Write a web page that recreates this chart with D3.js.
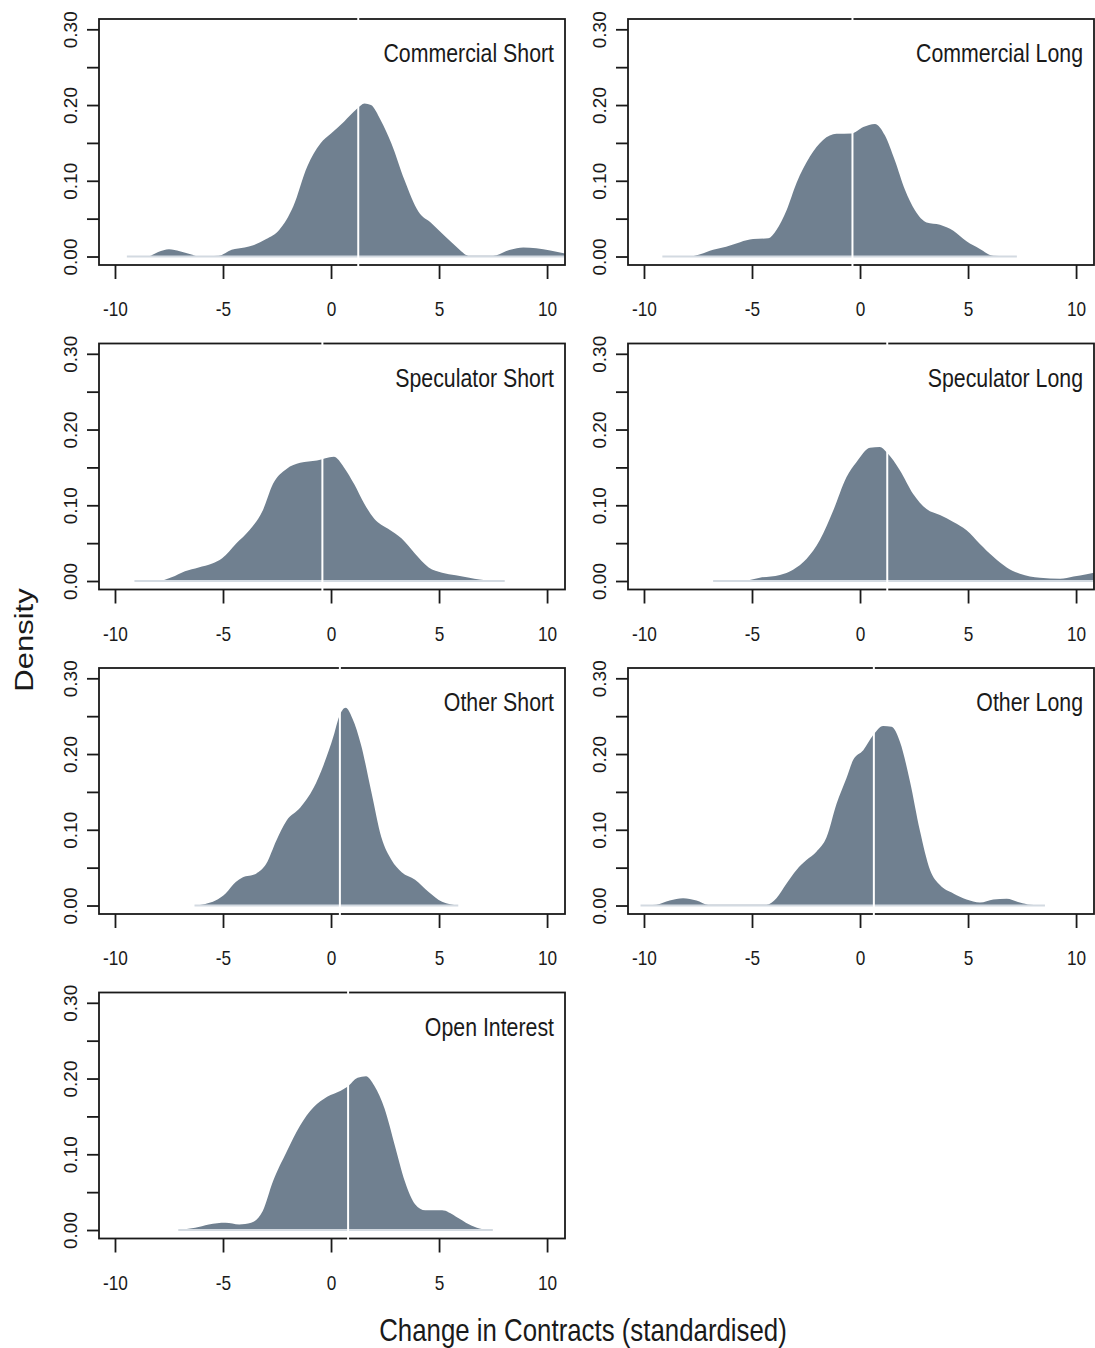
<!DOCTYPE html>
<html>
<head>
<meta charset="utf-8">
<script src="https://cdn.jsdelivr.net/npm/d3@7"></script>
<style>
  body { margin: 0; background: #fff; }
  svg { display: block; }
</style>
</head>
<body>
<div id="chart"></div>
<script>
// panel titles, in order (left to right, top to bottom)
var panelNames = ["Commercial Short", "Commercial Long", "Speculator Short", "Speculator Long",
                  "Other Short", "Other Long", "Open Interest"];

// density curves
var commShortX = [-9.45, -8.5, -8.0, -7.5, -7.0, -6.5, -6.1, -5.2, -4.6, -4.0, -3.6, -3.0, -2.4, -1.75, -1.1, -0.5, 0.0, 0.6, 1.2, 1.55, 1.85, 2.3, 2.8, 3.4, 4.05, 4.65, 5.3, 5.8, 6.4, 7.5, 8.3, 8.9, 9.5, 10.15, 10.85, 11.3];
var commShortY = [0, 0, 0.006, 0.0097, 0.007, 0.003, 0, 0.001, 0.009, 0.012, 0.015, 0.023, 0.035, 0.066, 0.119, 0.149, 0.1625, 0.178, 0.195, 0.202, 0.2, 0.18, 0.149, 0.101, 0.059, 0.044, 0.026, 0.013, 0.001, 0.001, 0.009, 0.012, 0.011, 0.008, 0.004, 0.002];

var commLongX = [-9.15, -7.9, -7.4, -6.8, -6.2, -5.55, -4.95, -4.25, -3.87, -3.4, -2.94, -2.32, -1.71, -1.09, -0.39, 0.15, 0.69, 1.15, 1.61, 2.08, 2.54, 3.08, 3.7, 4.32, 4.93, 5.55, 6.17, 7.26];
var commLongY = [0, 0, 0.003, 0.009, 0.013, 0.019, 0.023, 0.024, 0.035, 0.061, 0.097, 0.132, 0.154, 0.162, 0.1625, 0.171, 0.175, 0.160, 0.127, 0.088, 0.061, 0.045, 0.042, 0.034, 0.020, 0.010, 0.001, 0];

var specShortX = [-9.1, -8.0, -7.38, -6.76, -6.13, -5.5, -5.04, -4.41, -3.78, -3.16, -2.69, -2.06, -1.43, -0.65, 0.13, 0.6, 1.07, 1.54, 2.01, 2.64, 3.27, 3.89, 4.52, 5.14, 5.77, 6.4, 6.87, 8.04];
var specShortY = [0, 0, 0.005, 0.013, 0.018, 0.023, 0.030, 0.049, 0.067, 0.093, 0.128, 0.148, 0.156, 0.159, 0.164, 0.150, 0.128, 0.102, 0.082, 0.069, 0.056, 0.036, 0.018, 0.011, 0.0075, 0.0044, 0.002, 0];

var specLongX = [-6.8, -5.26, -4.64, -3.71, -3.1, -2.48, -1.86, -1.24, -0.63, -0.16, 0.46, 0.92, 1.23, 1.85, 2.46, 3.08, 3.7, 4.32, 4.93, 5.55, 6.17, 6.79, 7.4, 8.33, 9.26, 9.88, 10.49, 10.87, 11.3];
var specLongY = [0, 0.001, 0.0044, 0.008, 0.015, 0.029, 0.054, 0.093, 0.137, 0.157, 0.176, 0.177, 0.170, 0.146, 0.115, 0.095, 0.087, 0.078, 0.067, 0.049, 0.032, 0.018, 0.0097, 0.0044, 0.003, 0.006, 0.009, 0.011, 0.013];

var otherShortX = [-6.32, -5.82, -5.35, -4.88, -4.41, -4.1, -3.47, -3.0, -2.53, -2.06, -1.43, -0.81, -0.34, 0.13, 0.37, 0.68, 0.99, 1.39, 1.86, 2.33, 2.8, 3.27, 3.89, 4.52, 5.14, 5.89];
var otherShortY = [0, 0.002, 0.0065, 0.016, 0.031, 0.037, 0.042, 0.055, 0.086, 0.112, 0.129, 0.155, 0.186, 0.225, 0.249, 0.261, 0.247, 0.212, 0.151, 0.090, 0.060, 0.044, 0.034, 0.018, 0.005, 0];

var otherLongX = [-10.16, -9.43, -8.81, -8.19, -7.57, -7.03, -4.33, -3.87, -3.4, -2.94, -2.48, -2.02, -1.55, -1.09, -0.63, -0.32, 0.15, 0.61, 1.07, 1.46, 1.85, 2.31, 2.77, 3.24, 3.7, 4.32, 4.93, 5.55, 6.17, 6.79, 7.4, 7.88, 8.56];
var otherLongY = [0, 0.001, 0.0065, 0.0096, 0.0065, 0.001, 0.001, 0.0096, 0.029, 0.047, 0.060, 0.071, 0.090, 0.134, 0.168, 0.192, 0.205, 0.225, 0.237, 0.236, 0.216, 0.164, 0.099, 0.047, 0.027, 0.016, 0.008, 0.004, 0.008, 0.009, 0.004, 0.001, 0];

var openIntX = [-7.07, -6.29, -5.66, -4.88, -4.25, -3.7, -3.16, -2.69, -2.06, -1.43, -0.81, -0.18, 0.45, 0.76, 1.23, 1.62, 2.01, 2.48, 2.95, 3.42, 3.89, 4.36, 5.14, 5.77, 6.4, 6.87, 7.49];
var openIntY = [0, 0.003, 0.0074, 0.0096, 0.0074, 0.0096, 0.025, 0.064, 0.103, 0.138, 0.162, 0.176, 0.184, 0.189, 0.201, 0.203, 0.190, 0.160, 0.112, 0.064, 0.034, 0.026, 0.026, 0.018, 0.0074, 0.002, 0];

// mean marker (white line) per panel
var panelMeans = [1.26, -0.35, -0.4, 1.26, 0.41, 0.64, 0.79];

var xTicks = [-10, -5, 0, 5, 10];
var yTicks = [0, 0.05, 0.10, 0.15, 0.20, 0.25, 0.30];

var seriesX = [commShortX, commLongX, specShortX, specLongX, otherShortX, otherLongX, openIntX];
var seriesY = [commShortY, commLongY, specShortY, specLongY, otherShortY, otherLongY, openIntY];

var width = 1095,
    height = 1348,
    boxW = 466,
    boxH = 246,
    colLeft = [99, 628],
    rowTop = [19, 343.5, 668, 992.5],
    squeeze = 0.82,
    fillCol = "#708090",
    ink = "#1a1a1a";

var svg = d3.select("#chart").append("svg")
    .attr("width", width)
    .attr("height", height)
    .style("font-family", "'Liberation Sans', Arial, sans-serif");

var x = d3.scaleLinear().domain([-10.74, 10.83]).range([0, boxW]);
var y = d3.scaleLinear().domain([-0.0112, 0.3136]).range([boxH, 0]);

var area = d3.area()
    .x(function(d) { return x(d[0]); })
    .y0(y(0))
    .y1(function(d) { return y(d[1]); })
    .curve(d3.curveMonotoneX);

panelNames.forEach(function(name, i) {
    var col = i % 2,
        row = Math.floor(i / 2);

    var g = svg.append("g")
        .attr("transform", "translate(" + colLeft[col] + "," + rowTop[row] + ")");

    svg.append("clipPath")
        .attr("id", "clip" + i)
      .append("rect")
        .attr("width", boxW)
        .attr("height", boxH);

    var pts = seriesX[i].map(function(v, j) { return [v, seriesY[i][j]]; });

    var plot = g.append("g").attr("clip-path", "url(#clip" + i + ")");

    plot.append("path")
        .datum(pts)
        .attr("d", area)
        .attr("fill", fillCol);

    // light zero line under the density
    plot.append("line")
        .attr("x1", x(d3.min(seriesX[i])))
        .attr("x2", x(d3.max(seriesX[i])))
        .attr("y1", y(0))
        .attr("y2", y(0))
        .attr("stroke", "#d3dae1")
        .attr("stroke-width", 2);

    // frame
    g.append("rect")
        .attr("width", boxW)
        .attr("height", boxH)
        .attr("fill", "none")
        .attr("stroke", ink)
        .attr("stroke-width", 1.8);

    // x axis
    var xAxis = g.append("g")
        .attr("transform", "translate(0," + boxH + ")")
        .call(d3.axisBottom(x).tickValues(xTicks).tickSize(14).tickSizeOuter(0).tickPadding(0)
            .tickFormat(d3.format("d")));
    xAxis.select(".domain").remove();
    xAxis.selectAll("line").attr("stroke", ink).attr("stroke-width", 1.8);
    xAxis.selectAll("text")
        .attr("y", 0)
        .attr("dy", null)
        .attr("transform", "translate(0,51) scale(" + squeeze + ",1)")
        .attr("fill", ink)
        .style("font-size", "21px")
        .text(function(d) { return d < 0 ? "-" + Math.abs(d) : d; });

    // y axis
    var yAxis = g.append("g")
        .call(d3.axisLeft(y).tickValues(yTicks).tickSize(12).tickSizeOuter(0)
            .tickFormat(function(d) { return Math.round(d * 100) % 10 === 0 ? d.toFixed(2) : ""; }));
    yAxis.select(".domain").remove();
    yAxis.selectAll("line").attr("stroke", ink).attr("stroke-width", 1.8);
    yAxis.selectAll("text")
        .attr("x", null)
        .attr("dy", null)
        .attr("text-anchor", "middle")
        .attr("transform", "translate(-22,0) rotate(-90)")
        .attr("fill", ink)
        .style("font-size", "19px");

    // mean line, cuts through the frame
    g.append("line")
        .attr("x1", x(panelMeans[i]))
        .attr("x2", x(panelMeans[i]))
        .attr("y1", -1.5)
        .attr("y2", boxH + 1.5)
        .attr("stroke", "#fff")
        .attr("stroke-width", 2);

    // panel title
    g.append("text")
        .attr("text-anchor", "end")
        .attr("transform", "translate(" + (boxW - 11) + ",43) scale(" + squeeze + ",1)")
        .attr("fill", ink)
        .style("font-size", "26px")
        .text(name);
});

svg.append("text")
    .attr("text-anchor", "middle")
    .attr("transform", "translate(33,640) scale(" + squeeze + ",1) rotate(-90)")
    .attr("fill", ink)
    .style("font-size", "31px")
    .text("Density");

svg.append("text")
    .attr("text-anchor", "middle")
    .attr("transform", "translate(583,1341) scale(" + squeeze + ",1)")
    .attr("fill", ink)
    .style("font-size", "31.5px")
    .text("Change in Contracts (standardised)");
</script>
</body>
</html>
